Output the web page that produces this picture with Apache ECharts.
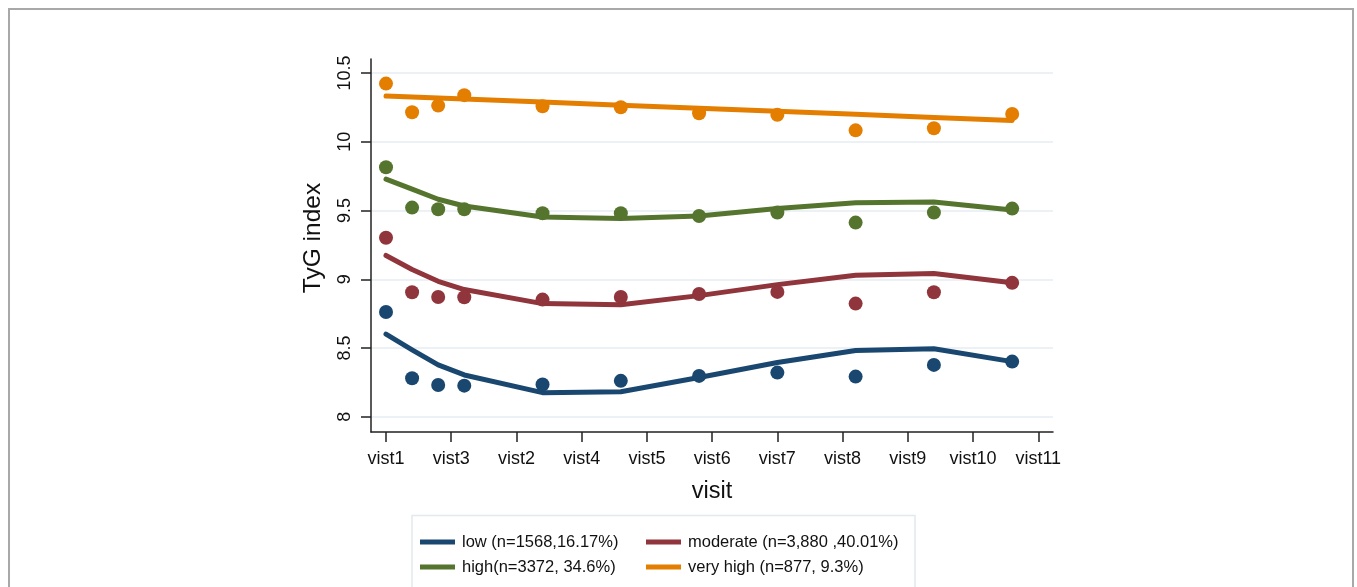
<!DOCTYPE html>
<html>
<head>
<meta charset="utf-8">
<script src="https://cdn.jsdelivr.net/npm/echarts@6/dist/echarts.min.js"></script>
<style>
html,body{margin:0;padding:0;background:#fff;}
#chart{width:1357px;height:587px;}
</style>
</head>
<body>
<div id="chart"></div>
<script>
const visitLabels = ['vist1','vist3','vist2','vist4','vist5','vist6','vist7','vist8','vist9','vist10','vist11'];
const visitTicks = [0,1,2,3,4,5,6,7,8,9,10];
const yTicks = [8, 8.5, 9, 9.5, 10, 10.5];
const timePoints = [0, 0.4, 0.8, 1.2, 2.4, 3.6, 4.8, 6.0, 7.2, 8.4, 9.6];

const groupNames = ['low (n=1568,16.17%)', 'moderate (n=3,880 ,40.01%)', 'high(n=3372, 34.6%)', 'very high (n=877, 9.3%)'];
const groupColors = ['#1a476f', '#90353b', '#55752f', '#e37e00'];

// observed means (dots)
const lowObs      = [8.762, 8.280, 8.231, 8.226, 8.234, 8.261, 8.297, 8.321, 8.292, 8.377, 8.401];
const moderateObs = [9.302, 8.905, 8.871, 8.869, 8.852, 8.871, 8.893, 8.908, 8.823, 8.905, 8.974];
const highObs     = [9.815, 9.521, 9.509, 9.509, 9.480, 9.480, 9.460, 9.485, 9.412, 9.485, 9.514];
const veryHighObs = [10.423, 10.215, 10.263, 10.339, 10.258, 10.251, 10.207, 10.197, 10.083, 10.098, 10.202];

// fitted trajectories (lines)
const lowFit      = [8.601, 8.487, 8.377, 8.304, 8.175, 8.182, 8.285, 8.394, 8.482, 8.494, 8.401];
const moderateFit = [9.173, 9.071, 8.985, 8.925, 8.823, 8.815, 8.881, 8.961, 9.029, 9.042, 8.974];
const highFit     = [9.728, 9.655, 9.582, 9.533, 9.453, 9.441, 9.460, 9.514, 9.557, 9.562, 9.504];
const veryHighFit = [10.333, 10.326, 10.318, 10.311, 10.289, 10.266, 10.244, 10.222, 10.200, 10.177, 10.155];

const obsAll = [lowObs, moderateObs, highObs, veryHighObs];
const fitAll = [lowFit, moderateFit, highFit, veryHighFit];

const FONT = '"Liberation Sans", Arial, sans-serif';
const pair = arr => timePoints.map((t, i) => [t, arr[i]]);

const series = [];
fitAll.forEach((arr, g) => {
  series.push({
    name: groupNames[g], type: 'line', data: pair(arr),
    showSymbol: false, symbol: 'none', color: groupColors[g],
    lineStyle: { width: 5, color: groupColors[g], cap: 'round', join: 'round' },
    z: 2, silent: true
  });
});
obsAll.forEach((arr, g) => {
  series.push({
    name: 'obs' + g, type: 'scatter', data: pair(arr),
    symbol: 'circle', symbolSize: 14, itemStyle: { color: groupColors[g], opacity: 1 },
    z: 3, silent: true
  });
});

const chart = echarts.init(document.getElementById('chart'), null, { renderer: 'canvas' });
const legendBase = {
  orient: 'vertical', icon: 'rect', itemWidth: 35, itemHeight: 5, itemGap: 7,
  padding: 0, selectedMode: false,
  textStyle: { fontFamily: FONT, fontSize: 16.5, color: '#111', lineHeight: 18, padding: [0, 0, 0, 2] }
};
chart.setOption({
  animation: false,
  backgroundColor: '#fff',
  textStyle: { fontFamily: FONT },
  graphic: [
    { type: 'rect', shape: { x: 9, y: 9, width: 1344, height: 620 }, style: { fill: 'none', stroke: '#a8a8a8', lineWidth: 2 }, silent: true },
    { type: 'rect', shape: { x: 412, y: 515.5, width: 503, height: 100 }, style: { fill: 'none', stroke: '#e2eaec', lineWidth: 1.5 }, silent: true }
  ],
  grid: { left: 371, right: 304, top: 59, bottom: 155, containLabel: false },
  legend: [
    Object.assign({}, legendBase, { left: 420, top: 533, data: [groupNames[0], groupNames[2]] }),
    Object.assign({}, legendBase, { left: 646, top: 533, data: [groupNames[1], groupNames[3]] })
  ],
  xAxis: {
    type: 'value', min: -0.23, max: 10.226,
    name: 'visit', nameLocation: 'middle', nameGap: 48,
    nameTextStyle: { fontFamily: FONT, fontSize: 23.5, color: '#111' },
    axisLine: { show: true, onZero: false, lineStyle: { color: '#222', width: 1.5 } },
    axisTick: { show: true, length: 10, customValues: visitTicks, lineStyle: { color: '#222', width: 1.5 } },
    axisLabel: { customValues: visitTicks, margin: 18, fontFamily: FONT, fontSize: 18, color: '#111',
      formatter: v => visitLabels[Math.round(v)] },
    splitLine: { show: false }
  },
  yAxis: {
    type: 'value', min: 7.889, max: 10.602,
    name: 'TyG index', nameLocation: 'middle', nameGap: 45, nameRotate: 90,
    nameTextStyle: { fontFamily: FONT, fontSize: 24.5, color: '#111', padding: [0, 0, 0, 15] },
    axisLine: { show: true, onZero: false, lineStyle: { color: '#222', width: 1.5 } },
    axisTick: { show: true, length: 10, customValues: yTicks, lineStyle: { color: '#222', width: 1.5 } },
    axisLabel: { customValues: yTicks, rotate: 90, margin: 17, fontFamily: FONT, fontSize: 18, color: '#111',
      formatter: v => String(v) },
    splitLine: { show: true, lineStyle: { color: '#e4edf0', width: 1.5 } }
  },
  series: series
});
</script>
</body>
</html>
